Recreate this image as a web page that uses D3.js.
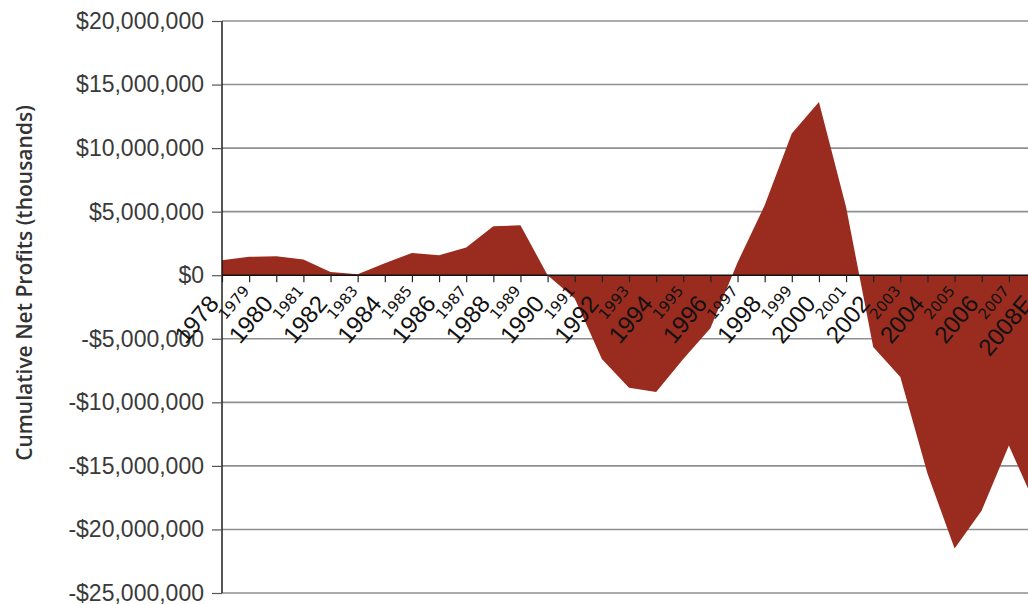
<!DOCTYPE html>
<html>
<head>
<meta charset="utf-8">
<script src="https://cdn.jsdelivr.net/npm/d3@7"></script>
<style>
  html, body { margin: 0; padding: 0; background: #fff; overflow: hidden; }
  svg { display: block; }
</style>
</head>
<body>
<svg id="chart" width="1028" height="604"></svg>
<script>
// Years on the category axis
const years = ["1978","1979","1980","1981","1982","1983","1984","1985","1986","1987",
  "1988","1989","1990","1991","1992","1993","1994","1995","1996","1997",
  "1998","1999","2000","2001","2002","2003","2004","2005","2006","2007","2008E"];

// Cumulative net profits, thousands of dollars
const profits = [1180000, 1450000, 1500000, 1230000, 260000, 80000, 950000, 1750000, 1570000, 2180000,
  3850000, 3930000, 0, -1830000, -6600000, -8850000, -9180000, -6600000, -4170000, 1000000,
  5500000, 11150000, 13630000, 5370000, -5640000, -8000000, -15600000, -21500000, -18500000, -13400000, -18200000];

// Value axis ticks
const yTicks = [20000000, 15000000, 10000000, 5000000, 0, -5000000, -10000000, -15000000, -20000000, -25000000];

const axisTitle = "Cumulative Net Profits (thousands)";

const svg = d3.select("#chart");

const x = d3.scalePoint().domain(years).range([222, 1036]);
const y = d3.scaleLinear().domain([-25000000, 20000000]).range([593, 21]);

const fmt = v => (v < 0 ? "-$" : "$") + d3.format(",")(Math.abs(v));

// Horizontal gridlines
svg.append("g")
  .selectAll("line")
  .data(yTicks.filter(v => v !== 0))
  .join("line")
  .attr("x1", 222).attr("x2", 1036)
  .attr("y1", d => y(d)).attr("y2", d => y(d))
  .attr("stroke", "#8f8f8f")
  .attr("stroke-width", 1.6);

// Area between the zero line and the series
const area = d3.area()
  .x((d, i) => x(years[i]))
  .y0(y(0))
  .y1(d => y(d));

svg.append("path")
  .datum(profits)
  .attr("d", area)
  .attr("fill", "#992c1f");

// Value axis
const yAxis = d3.axisLeft(y)
  .tickValues(yTicks)
  .tickFormat(fmt)
  .tickSize(10)
  .tickPadding(8);

const gy = svg.append("g")
  .attr("transform", "translate(222,0)")
  .call(yAxis);
gy.select(".domain").attr("stroke", "#111").attr("stroke-width", 1.4).attr("d", "M0,21V593");
gy.selectAll(".tick line").attr("stroke", "#555").attr("stroke-width", 1.2);
gy.selectAll(".tick text")
  .attr("font-family", "'Liberation Sans', Arial, sans-serif")
  .attr("font-size", 23)
  .attr("fill", "#3a3a3a");

// Category axis along zero
const xAxis = d3.axisBottom(x).tickSize(7).tickFormat("");
const gx = svg.append("g")
  .attr("transform", `translate(0,${y(0)})`)
  .call(xAxis);
gx.select(".domain").attr("stroke", "#111").attr("stroke-width", 1.4).attr("d", "M222,0H1036");
gx.selectAll(".tick line").attr("stroke", "#222").attr("stroke-width", 1.2);

// Year labels, alternating sizes
svg.append("g")
  .selectAll("text")
  .data(years)
  .join("text")
  .attr("transform", (d, i) => i % 2 === 0
    ? `translate(${x(d) - 2},${y(0) + 29}) rotate(-50)`
    : `translate(${x(d) + 1},${y(0) + 16}) rotate(-50)`)
  .attr("text-anchor", "end")
  .attr("font-family", (d, i) => i % 2 === 0 ? "'Liberation Sans', Arial, sans-serif" : "'DejaVu Sans', Verdana, sans-serif")
  .attr("font-size", (d, i) => i % 2 === 0 ? 24 : 15)
  .attr("fill", "#111")
  .text(d => d);

// Axis title
svg.append("text")
  .attr("transform", "translate(32,283) rotate(-90)")
  .attr("text-anchor", "middle")
  .attr("font-family", "'Open Sans', sans-serif")
  .attr("font-weight", 600)
  .attr("font-size", 21)
  .attr("fill", "#333")
  .text(axisTitle);
</script>
</body>
</html>
